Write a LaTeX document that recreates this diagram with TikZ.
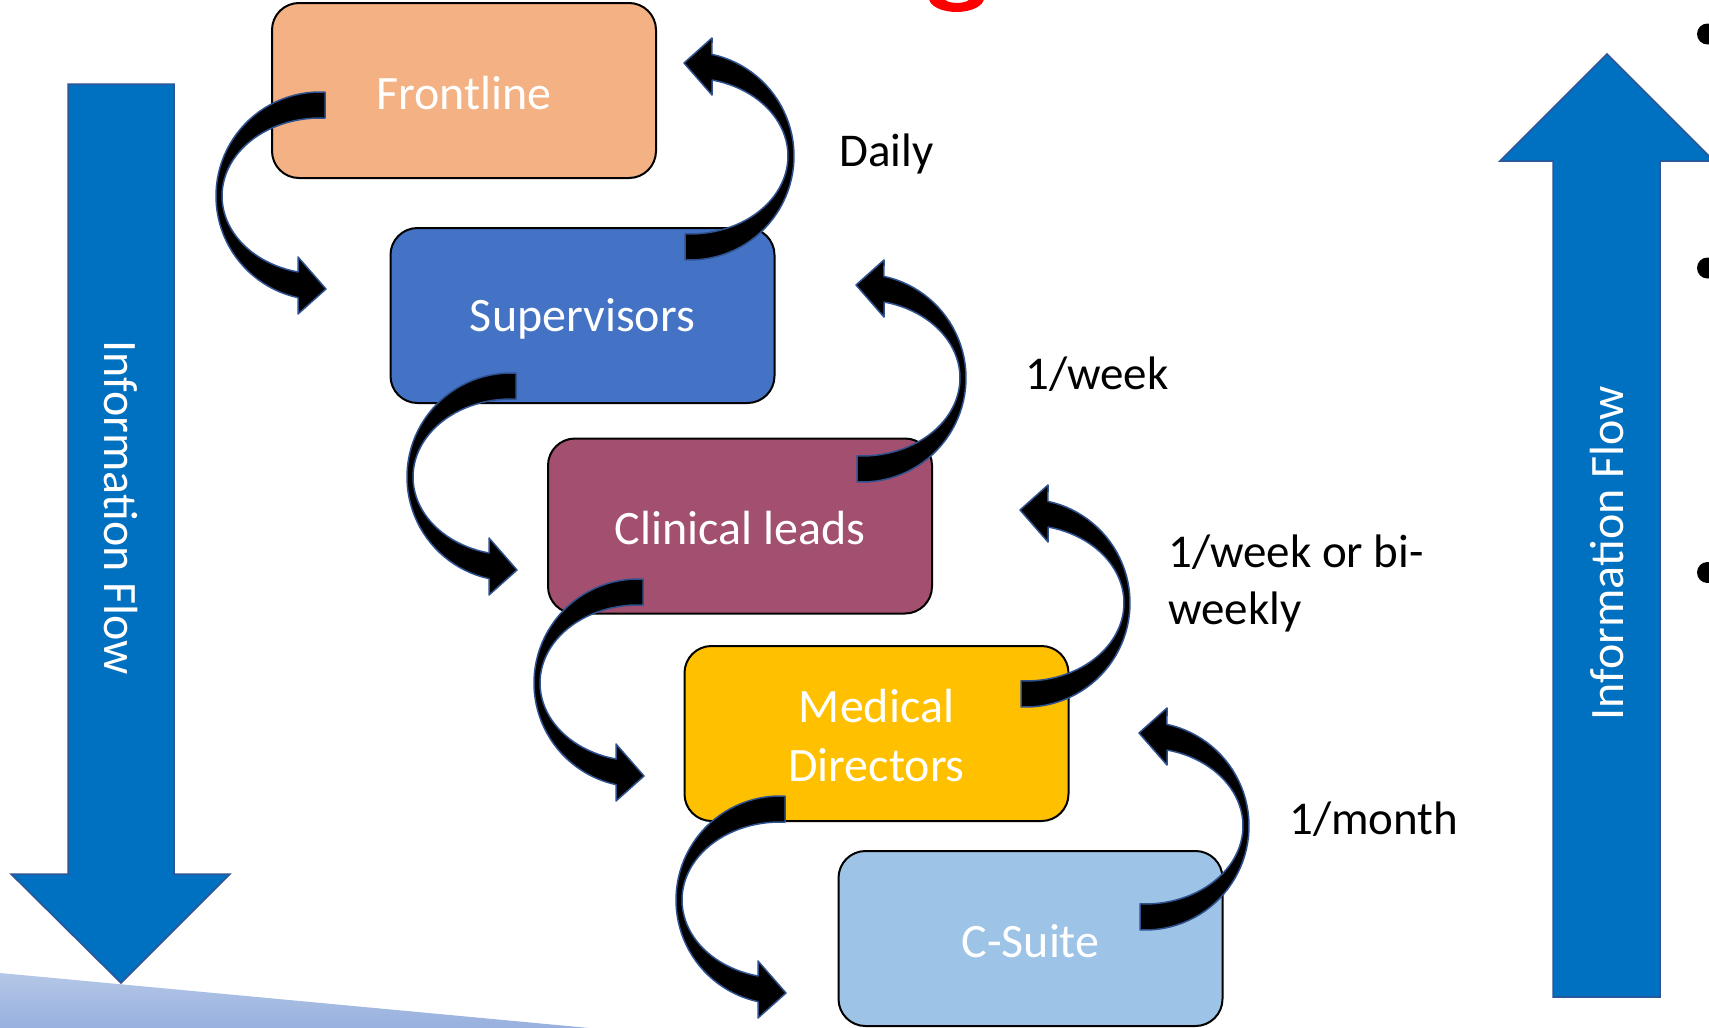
\documentclass[tikz,border=0pt]{standalone}
\usepackage{fontspec}
\setmainfont{Carlito}
\definecolor{flowblue}{HTML}{0070C0}
\definecolor{flowedge}{HTML}{2F5597}
\definecolor{bendedge}{HTML}{2F528F}
\definecolor{frontc}{HTML}{F4B183}
\definecolor{supc}{HTML}{4472C4}
\definecolor{clinc}{HTML}{A34F70}
\definecolor{medc}{HTML}{FFC000}
\definecolor{csc}{HTML}{9DC3E6}
\definecolor{slidetop}{HTML}{B4C7E7}
\definecolor{slidebot}{HTML}{97B0DD}
\begin{document}
\begin{tikzpicture}[x=1pt,y=-1pt,
  tier/.style={draw=black, line width=2pt, rounded corners=27pt,
    minimum width=384pt, minimum height=175pt, inner sep=0pt,
    text=white, align=center, font=\fontsize{48}{59}\selectfont},
  tiertext/.style={text=white, inner sep=0pt, align=center,
    font=\fontsize{48}{59}\selectfont},
  freq/.style={text=black, anchor=base west, inner sep=0pt,
    font=\fontsize{47}{58}\selectfont},
  flowarrow/.style={fill=flowblue, draw=flowedge, line width=1.5pt},
  flowtext/.style={text=white, inner sep=0pt, font=\fontsize{48}{58}\selectfont},
  bendfill/.style={fill=black, draw=bendedge, line width=1.5pt, line join=round},
  bendarrow/.pic={
    % curved band with its arrowhead, bulging to the right, pointing back left
    \filldraw[bendfill] (-5,78) -- (-5,103.9)
      -- plot[domain=92.76:-77.8, samples=50] ({104*cos(\x)},{104*sin(\x)})
      -- (22,-118) -- (-6,-93) -- (22,-61) -- (22,-76)
      -- plot[domain=-77:92.9, samples=50] ({98*cos(\x)},{78*sin(\x)})
      -- cycle;
  }]
\useasboundingbox (0,0) rectangle (1709,1028);
\fill[white] (0,0) rectangle (1709,1028);

% title descender peeking in at the top
\fill[red, even odd rule] (956.5,-2) ellipse[x radius=27.5, y radius=14]
  (957,-2) ellipse[x radius=13, y radius=5];

% bullets at the right edge
\fill[black] (1707.5,34) circle[radius=10.5];
\fill[black] (1707.5,268) circle[radius=10.5];
\fill[black] (1707.5,572.5) circle[radius=10.5];

% downward information flow
\filldraw[flowarrow] (68,84) -- (174,84) -- (174,874) -- (230,874) -- (121,983)
  -- (11,874) -- (68,874) -- cycle;
\node[flowtext, rotate=-90] (downflow) at (121,508) {Information Flow};

% upward information flow
\filldraw[flowarrow] (1553,997) -- (1553,161) -- (1500,161) -- (1607,54)
  -- (1714,161) -- (1660,161) -- (1660,997) -- cycle;
\node[flowtext, rotate=90] (upflow) at (1607,553) {Information Flow};

% slide decoration
\shade[top color=slidetop, bottom color=slidebot] (0,973) -- (589,1028) -- (0,1028) -- cycle;

% tiers (boxes, with their captions set slightly below centre)
\node[tier, fill=frontc] (front) at (464,90.5) {};
\node[tier, fill=supc] (sup) at (582.5,315.5) {};
\node[tier, fill=clinc] (clin) at (740,526) {};
\node[tier, fill=medc] (med) at (876.5,733.5) {};
\node[tier, fill=csc] (csuite) at (1030.5,938.5) {};
\node[tiertext] (frontcap) at ([yshift=-3pt]front.center) {Frontline};
\node[tiertext] (supcap) at ([yshift=-3pt]sup.center) {Supervisors};
\node[tiertext] (clincap) at ([yshift=-2pt]clin.center) {Clinical leads};
\node[tiertext] (medcap) at ([yshift=-2pt]med.center) {Medical\\Directors};
\node[tiertext] (csuitecap) at ([yshift=-3pt]csuite.center) {C-Suite};

% downward hand-offs
\pic[rotate=180] at (320,196) {bendarrow};
\pic[rotate=180] at (511,477) {bendarrow};
\pic[rotate=180] at (638,683) {bendarrow};
\pic[rotate=180] at (780,900) {bendarrow};

% upward hand-offs
\pic at (690,156) {bendarrow};
\pic at (862,378) {bendarrow};
\pic at (1026,603) {bendarrow};
\pic at (1145,826) {bendarrow};

% meeting frequencies
\node[freq] (daily) at (839,166) {Daily};
\node[freq] (weekly) at (1025,389) {1/week};
\node[freq] (biweekA) at (1168,567) {1/week or bi-};
\node[freq] (biweekB) at (1168,624) {weekly};
\node[freq] (monthly) at (1289,834) {1/month};
\end{tikzpicture}
\end{document}
